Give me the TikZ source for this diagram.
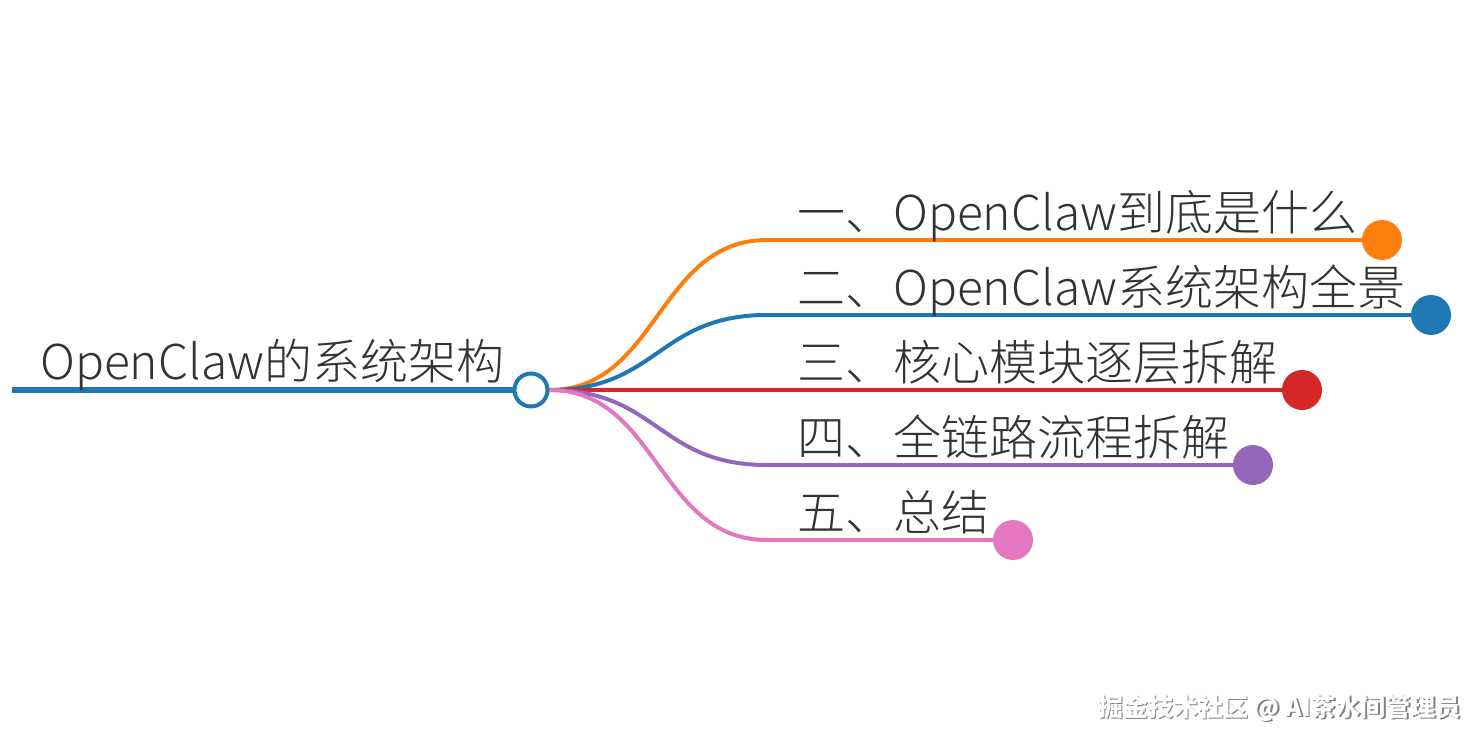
\documentclass[tikz,border=0pt]{standalone}
\usepackage{fontspec}
\setmainfont{Noto Sans CJK SC Light}
\newfontfamily\wmfont{Noto Sans CJK SC}
\usetikzlibrary{calc}

\definecolor{corange}{HTML}{FF7F0E}
\definecolor{cblue}{HTML}{1F77B4}
\definecolor{cred}{HTML}{D62728}
\definecolor{cpurple}{HTML}{9467BD}
\definecolor{cpink}{HTML}{E377C2}
\definecolor{ctext}{HTML}{333333}

\tikzset{
  branch/.style={line width=4pt},
  dot/.style={circle, minimum size=40pt, inner sep=0pt},
  label/.style={anchor=base west, inner sep=0pt, text=ctext,
                font=\fontsize{48}{56}\selectfont},
  mark text/.style={anchor=east, inner sep=0pt,
                font=\wmfont\bfseries\fontsize{25}{30}\selectfont}
}

\begin{document}
\begin{tikzpicture}[x=1pt, y=-1pt]
  \useasboundingbox (0,0) rectangle (1484,744);

  % 中心主题
  \coordinate (start) at (12,390);
  \node[circle, draw=cblue, line width=4pt, fill=white,
        minimum size=33pt, inner sep=0pt] (hub) at (531,390) {};
  \draw[cblue, line width=5.5pt] (start) -- (hub.west);
  \node[label] (title) at (40,379) {OpenClaw的系统架构};

  % 分支端点
  \node[dot, fill=corange] (d1) at (1382,240) {};
  \node[dot, fill=cblue]   (d2) at (1431,315) {};
  \node[dot, fill=cred]    (d3) at (1302,390) {};
  \node[dot, fill=cpurple] (d4) at (1253,465) {};
  \node[dot, fill=cpink]   (d5) at (1013,540) {};

  \coordinate (c1) at (767,240);
  \coordinate (c2) at (767,315);
  \coordinate (c4) at (767,465);
  \coordinate (c5) at (767,540);

  % 分支曲线
  \draw[branch, corange] (hub.east) .. controls (658,390) and (658,240) .. (c1) -- (d1.center);
  \draw[branch, cblue]   (hub.east) .. controls (658,390) and (658,315) .. (c2) -- (d2.center);
  \draw[branch, cred]    (hub.east) -- (d3.center);
  \draw[branch, cpurple] (hub.east) .. controls (658,390) and (658,465) .. (c4) -- (d4.center);
  \draw[branch, cpink]   (hub.east) .. controls (658,390) and (658,540) .. (c5) -- (d5.center);

  % 分支标题
  \node[label] (t1) at (797,230) {一、OpenClaw到底是什么};
  \node[label] (t2) at (797,305) {二、OpenClaw系统架构全景};
  \node[label] (t3) at (797,380) {三、核心模块逐层拆解};
  \node[label] (t4) at (797,455) {四、全链路流程拆解};
  \node[label] (t5) at (797,530) {五、总结};

  % 水印
  \node[mark text, text=black!50] (wmshadow) at (1462.5,709.5)
        {掘金技术社区 @ AI茶水间管理员};
  \node[mark text, text=white] (wm) at (1461,708)
        {掘金技术社区 @ AI茶水间管理员};
\end{tikzpicture}
\end{document}
